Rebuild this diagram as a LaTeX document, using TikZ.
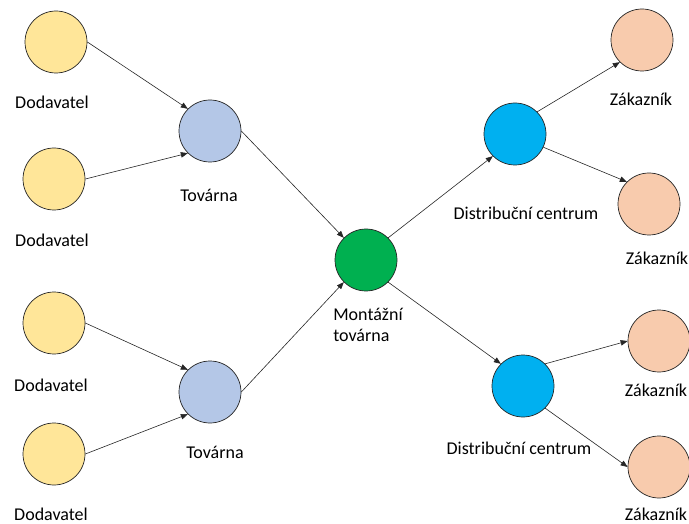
\documentclass[tikz,border=0pt]{standalone}
\usepackage{fontspec}
\setmainfont{Carlito}
\usepackage{xcolor}
\usepackage{tikz}
\usetikzlibrary{positioning}
\usetikzlibrary{arrows.meta}

\definecolor{dodavatelc}{HTML}{FFE699}
\definecolor{tovarnac}{HTML}{B4C7E7}
\definecolor{montazc}{HTML}{00B050}
\definecolor{centrumc}{HTML}{00B0F0}
\definecolor{zakaznikc}{HTML}{F8CBAD}

\tikzset{
    uzel/.style={circle, draw=black!85, line width=0.7pt, minimum size=62pt, inner sep=0pt},
    popis/.style={inner sep=0pt, font=\fontsize{18}{21}\selectfont},
    sipka/.style={-{Triangle[length=7pt,width=5.5pt]}, line width=0.6pt, black!85}
}

\begin{document}
\begin{tikzpicture}[x=1pt, y=-1pt]
    \useasboundingbox (0,0) rectangle (689,524);

    % Dodavatelé
    \node[uzel, fill=dodavatelc] (s1) at (56,42) {};
    \node[uzel, fill=dodavatelc] (s2) at (54,179) {};
    \node[uzel, fill=dodavatelc] (s3) at (54,323) {};
    \node[uzel, fill=dodavatelc] (s4) at (54,454) {};
    \node[popis] (ls1) at (52,102) {Dodavatel};
    \node[popis] (ls2) at (52,240) {Dodavatel};
    \node[popis] (ls3) at (51,385) {Dodavatel};
    \node[popis] (ls4) at (51,514) {Dodavatel};

    % Továrny
    \node[uzel, fill=tovarnac] (f1) at (210,131) {};
    \node[uzel, fill=tovarnac] (f2) at (210,392) {};
    \node[popis] (lf1) at (209,195) {Továrna};
    \node[popis] (lf2) at (215,452) {Továrna};

    % Montážní továrna
    \node[uzel, fill=montazc] (a) at (366,260) {};
    \node[popis, align=left] (la) at (368,325) {Montážní\\továrna};

    % Distribuční centra
    \node[uzel, fill=centrumc] (dc1) at (515,134) {};
    \node[uzel, fill=centrumc] (dc2) at (523,386) {};
    \node[popis] (ldc1) at (526,213) {Distribuční centrum};
    \node[popis] (ldc2) at (519,448) {Distribuční centrum};

    % Zákazníci
    \node[uzel, fill=zakaznikc] (c1) at (642,40) {};
    \node[uzel, fill=zakaznikc] (c2) at (649,204) {};
    \node[uzel, fill=zakaznikc] (c3) at (659,341) {};
    \node[uzel, fill=zakaznikc] (c4) at (659,467) {};
    \node[popis] (lc1) at (641,99) {Zákazník};
    \node[popis] (lc2) at (657,258) {Zákazník};
    \node[popis] (lc3) at (656,390) {Zákazník};
    \node[popis] (lc4) at (656,514) {Zákazník};

    % Šipky
    \draw[sipka] (s1.east) -- (f1.north west);
    \draw[sipka] (s2.east) -- (f1.south west);
    \draw[sipka] (s3.east) -- (f2.north west);
    \draw[sipka] (s4.east) -- (f2.south west);
    \draw[sipka] (f1.east) -- (a.north west);
    \draw[sipka] (f2.east) -- (a.south west);
    \draw[sipka] (a.north east) -- (dc1.south west);
    \draw[sipka] (a.south east) -- (dc2.north west);
    \draw[sipka] (dc1.north east) -- (c1.south west);
    \draw[sipka] (dc1.-25) -- (c2.north west);
    \draw[sipka] (dc2.north east) -- (c3.west);
    \draw[sipka] (dc2.south east) -- (c4.west);
\end{tikzpicture}
\end{document}
